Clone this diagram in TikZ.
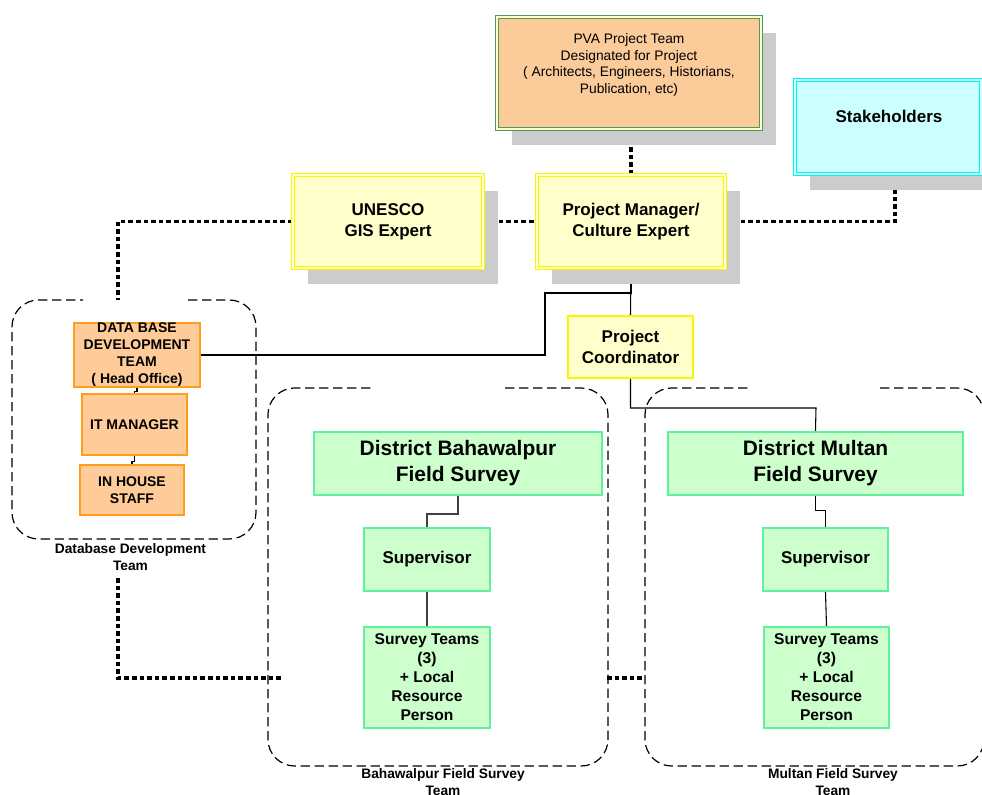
\documentclass[tikz,border=0pt]{standalone}
\usepackage{fontspec}
\setmainfont{Liberation Sans}
\usetikzlibrary{shadows,calc}
\pgfdeclarelayer{bg}
\pgfsetlayers{bg,main}
\definecolor{peach}{HTML}{FBCB9A}
\definecolor{pvaline}{HTML}{4E9A62}
\definecolor{dbfill}{HTML}{FFCC99}
\definecolor{dbline}{HTML}{FF9E1A}
\definecolor{yfill}{HTML}{FFFFCC}
\definecolor{yline}{HTML}{F7F700}
\definecolor{cfill}{HTML}{CCFFFF}
\definecolor{cline}{HTML}{00F5F5}
\definecolor{gfill}{HTML}{CCFFCC}
\definecolor{gline}{HTML}{60F0A0}
\definecolor{shade}{HTML}{CCCCCC}
\tikzset{
  shad/.style={drop shadow={shadow xshift=11.5pt, shadow yshift=-12pt, fill=shade, opacity=1}},
  pvabox/.style={shad, rectangle, fill=peach, draw=pvaline, double=yfill, double distance=1.4pt, line width=0.6pt, inner sep=0pt},
  ybox/.style={shad, rectangle, fill=yfill, draw=yline, double=yfill, double distance=1.4pt, line width=0.6pt, inner sep=0pt, align=center, font=\fontsize{12.75}{15.75}\selectfont\bfseries},
  cbox/.style={shad, rectangle, fill=cfill, draw=cline, double=cfill, double distance=1.4pt, line width=0.6pt, inner sep=0pt},
  pcbox/.style={rectangle, fill=yfill, draw=yline, line width=1.5pt, inner sep=0pt, align=center, font=\fontsize{12.75}{15.75}\selectfont\bfseries},
  dbbox/.style={rectangle, fill=dbfill, draw=dbline, line width=1.6pt, inner sep=0pt, align=center, font=\fontsize{10.5}{12.75}\selectfont\bfseries},
  gbox/.style={rectangle, fill=gfill, draw=gline, line width=1.6pt, inner sep=0pt, align=center, font=\fontsize{11.7}{14.25}\selectfont\bfseries},
  supbox/.style={gbox, font=\fontsize{12.75}{15.75}\selectfont\bfseries},
  distbox/.style={gbox, font=\fontsize{15.7}{19.5}\selectfont\bfseries},
  grouplabel/.style={align=center, inner sep=0pt, font=\fontsize{10.3}{12.75}\selectfont\bfseries},
  contour/.style={draw=black, line width=0.9pt, dash pattern=on 7pt off 3.5pt, rounded corners=20pt},
  dotline/.style={draw=black, line width=2.4pt, dash pattern=on 3.4pt off 2.3pt},
  solid line/.style={draw=black, line width=0.8pt},
  grayline/.style={draw=black!75, line width=0.9pt},
}
\begin{document}
\begin{tikzpicture}[x=0.75pt,y=-0.75pt]
\useasboundingbox (0,0) rectangle (982,795);

% top boxes
\node[pvabox, minimum width=264*0.75pt, minimum height=112*0.75pt] (pva) at (629,73) {};
\node[align=center, inner sep=0pt, font=\fontsize{10.35}{12.4}\selectfont] (pvatext) at (629,65)
  {PVA Project Team\\Designated for Project\\( Architects, Engineers, Historians,\\Publication, etc)};
\node[cbox, minimum width=186*0.75pt, minimum height=94*0.75pt] (stk) at (888,127) {};
\node[inner sep=0pt, font=\fontsize{12.75}{15.75}\selectfont\bfseries] (stktext) at (889,116) {Stakeholders};
\node[ybox, minimum width=190*0.75pt, minimum height=93*0.75pt] (un) at (388,221.5) {UNESCO\\GIS Expert};
\node[ybox, minimum width=188*0.75pt, minimum height=93*0.75pt] (pm) at (631,221.5) {Project Manager/\\Culture Expert};
\node[pcbox, minimum width=125*0.75pt, minimum height=62*0.75pt] (pc) at (630.5,347) {Project\\Coordinator};

% database team
\node[dbbox, minimum width=126*0.75pt, minimum height=64*0.75pt] (db) at (137,355) {DATA BASE\\DEVELOPMENT\\TEAM\\( Head Office)};
\node[dbbox, minimum width=105*0.75pt, minimum height=61*0.75pt] (it) at (134.5,424.5) {IT MANAGER};
\node[dbbox, minimum width=104*0.75pt, minimum height=50*0.75pt] (ih) at (132,490) {IN HOUSE\\STAFF};

% field survey teams
\node[distbox, minimum width=288*0.75pt, minimum height=63*0.75pt] (bd) at (458,463.5) {District Bahawalpur\\Field Survey};
\node[supbox, minimum width=126*0.75pt, minimum height=63*0.75pt] (sb) at (427,559.5) {Supervisor};
\node[gbox, minimum width=126*0.75pt, minimum height=101*0.75pt] (tb) at (427,677.5) {Survey Teams\\(3)\\+ Local\\Resource\\Person};
\node[distbox, minimum width=295*0.75pt, minimum height=63*0.75pt] (md) at (815.5,463.5) {District Multan\\Field Survey};
\node[supbox, minimum width=125*0.75pt, minimum height=63*0.75pt] (sm) at (825.5,559.5) {Supervisor};
\node[gbox, minimum width=125*0.75pt, minimum height=101*0.75pt] (tm) at (826.5,677.5) {Survey Teams\\(3)\\+ Local\\Resource\\Person};

% group labels
\node[grouplabel] (dblab) at (130.5,557.5) {Database Development\\Team};
\node[grouplabel] (blab) at (443,782.5) {Bahawalpur Field Survey\\Team};
\node[grouplabel] (mlab) at (833,782.5) {Multan Field Survey\\Team};

% coordinates for free ends
\coordinate (pvash) at ([yshift=-12pt]pva.south);
\coordinate (stksh) at (895,190);
\coordinate (dbtop) at (118,300);
\coordinate (dbbot) at (118,578);
\coordinate (bend) at (283,678);
\coordinate (gapl) at (607,678);
\coordinate (gapr) at (645,678);
\coordinate (j1) at (545,293);
\coordinate (j2) at (816,408);

\begin{pgfonlayer}{bg}
% group frames
\draw[contour] (188,300) -- (256,300) -- (256,539) -- (12,539) -- (12,300) -- (83,300);
\draw[contour] (505,388) -- (608,388) -- (608,766) -- (268,766) -- (268,388) -- (372,388);
\draw[contour] (880,388) -- (984,388) -- (984,766) -- (645,766) -- (645,388) -- (748,388);
% dotted links
\draw[dotline] (pm.north) -- (pm.north |- pvash);
\draw[dotline] (un.east) -- (pm.west);
\draw[dotline] (un.west) -| (dbtop);
\draw[dotline] (pm.east) -| (stksh);
\draw[dotline] (dbbot) |- (bend);
\draw[dotline] (gapl) -- (gapr);
% solid links
\draw[solid line] (db.east) -| (j1) -| (pm.south);
\draw[solid line] (pm.south) -- (pc.north);
\draw[solid line] (pc.south) |- (j2) -- (md.north);
\draw[solid line] (db.south) -- ++(0,3.5) -| (it.north);
\draw[solid line] (it.south) -- ++(0,5) -| (ih.north);
\draw[grayline] (bd.south) -- ++(0,18) -| (sb.north);
\draw[grayline] (sb.south) -- (tb.north);
\draw[solid line] (md.south) -- ++(0,14) -| (sm.north);
\draw[solid line] (sm.south) -- (tm.north);
\end{pgfonlayer}
\end{tikzpicture}
\end{document}
